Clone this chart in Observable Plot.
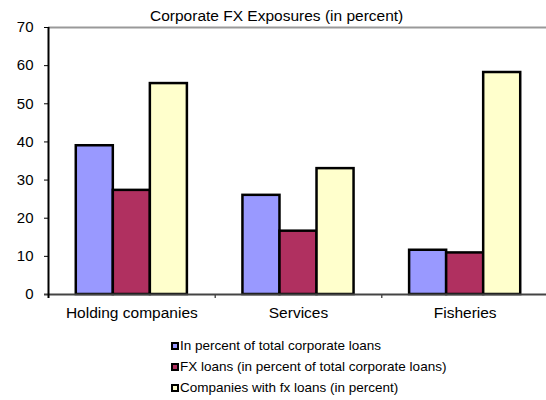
<!DOCTYPE html>
<html>
<head>
<meta charset="utf-8">
<script src="https://cdn.jsdelivr.net/npm/d3@7"></script>
<script src="https://cdn.jsdelivr.net/npm/@observablehq/plot@0.6"></script>
<style>
  body { margin: 0; background: #fff; font-family: "Liberation Sans", Arial, sans-serif; }
  #wrap { width: 546px; height: 400px; position: relative; overflow: hidden; }
  #title { position: absolute; top: 0; left: 0; font-size: 15.5px; line-height: 16px; padding-top: 8px; padding-left: 150px; white-space: nowrap; color: #000; z-index: 2; }
  #legend { padding-left: 171px; padding-top: 3px; font-size: 13.5px; color: #000; }
  .item { height: 21px; line-height: 21px; display: flex; align-items: center; white-space: nowrap; }
  .sw { width: 4px; height: 4px; border: 2px solid #000; margin-right: 1px; }
  svg { display: block; }
</style>
</head>
<body>
<div id="wrap">
  <div id="title">Corporate FX Exposures (in percent)</div>
  <div id="chart"></div>
  <div id="legend"></div>
</div>
<script>
const categories = ["Holding companies", "Services", "Fisheries"];
const seriesNames = [
  "In percent of total corporate loans",
  "FX loans (in percent of total corporate loans)",
  "Companies with fx loans (in percent)"
];
const shareOfTotalLoans = [39.0, 26.0, 11.6];
const fxLoansShare = [27.3, 16.6, 10.9];
const companiesWithFx = [55.3, 33.0, 58.2];
const yTicks = [0, 10, 20, 30, 40, 50, 60, 70];
const colors = ["#9999FF", "#B03060", "#FFFFCC"];

const seriesValues = [shareOfTotalLoans, fxLoansShare, companiesWithFx];
const rows = [];
categories.forEach((c, ci) => {
  seriesNames.forEach((s, si) => {
    rows.push({category: c, series: s, value: seriesValues[si][ci]});
  });
});

const inner = d3.scaleBand().domain(seriesNames).range([1/6, 5/6]).padding(0);
const ci = d => categories.indexOf(d.category);

const plot = Plot.plot({
  width: 546,
  height: 332,
  marginLeft: 48,
  marginRight: 0,
  marginTop: 27,
  marginBottom: 38,
  style: {fontFamily: "'Liberation Sans', Arial, sans-serif", fontSize: "15px", color: "#000", background: "transparent"},
  x: {domain: [0, 3], range: [48, 548], ticks: [0, 1, 2, 3], tickFormat: () => "", tickSize: 4, label: null},
  y: {domain: [0, 70], ticks: yTicks, tickSize: 4, tickPadding: 11, label: null},
  color: {domain: seriesNames, range: colors},
  marks: [
    Plot.ruleY([70], {stroke: "#999", strokeWidth: 2}),
    Plot.rectY(rows, {
      x1: d => ci(d) + inner(d.series),
      x2: d => ci(d) + inner(d.series) + inner.bandwidth(),
      y1: 0,
      y2: "value",
      fill: "series",
      stroke: "#000",
      strokeWidth: 2.5
    }),
    Plot.ruleY([0], {stroke: "#444", strokeWidth: 2, insetLeft: -4}),
    Plot.ruleX([0], {stroke: "#000", strokeWidth: 2, insetBottom: -4}),
    Plot.text(categories, {
      x: (d, i) => i + 0.5,
      frameAnchor: "bottom",
      dy: 23,
      text: d => d,
      fontSize: 15.5,
      fill: "#000"
    })
  ]
});
document.getElementById("chart").appendChild(plot);

const legend = document.getElementById("legend");
seriesNames.forEach((s, i) => {
  const item = document.createElement("div");
  item.className = "item";
  const sw = document.createElement("span");
  sw.className = "sw";
  sw.style.background = colors[i];
  const t = document.createElement("span");
  t.textContent = s;
  item.appendChild(sw);
  item.appendChild(t);
  legend.appendChild(item);
});
</script>
</body>
</html>
